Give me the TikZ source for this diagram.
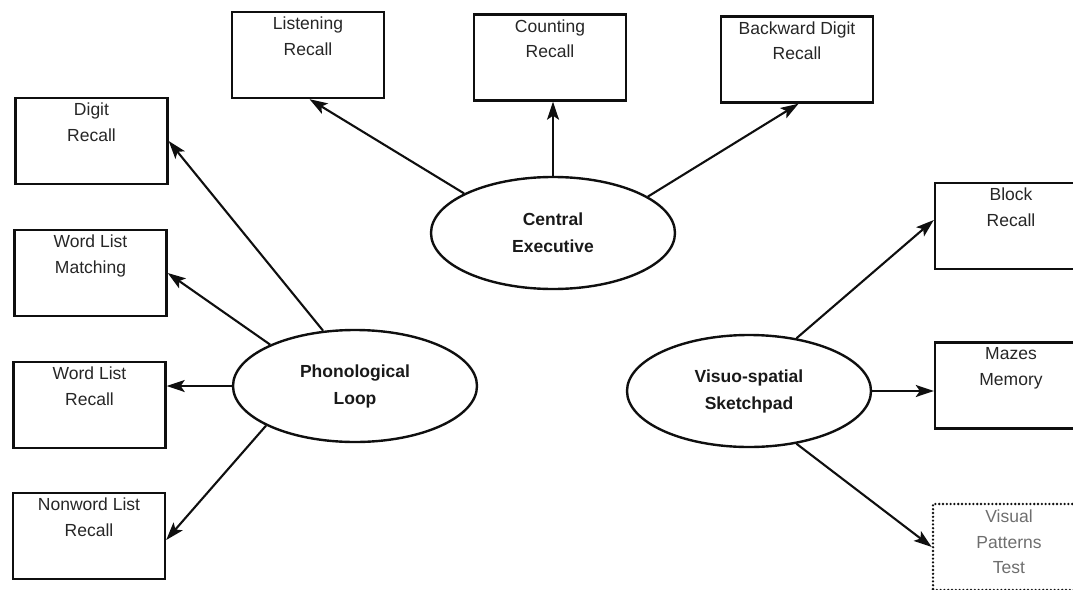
\documentclass[tikz,border=0pt]{standalone}
\usepackage{fontspec}
\setmainfont{Liberation Sans}
\usetikzlibrary{arrows.meta,shapes.geometric,calc}
\definecolor{fadedtext}{RGB}{110,110,110}
\definecolor{inkline}{RGB}{15,15,15}
\begin{document}
\begin{tikzpicture}[x=1pt,y=-1pt,
  testbox/.style={draw=inkline, line width=2.4pt, minimum width=152pt, minimum height=86pt, inner sep=0pt},
  optionalbox/.style={testbox, line cap=round, dash pattern=on 0pt off 3.8pt, line width=2.6pt},
  boxtext/.style={anchor=north, align=center, inner sep=0pt, text=black!85, font=\fontsize{17.5}{25.5}\selectfont},
  component/.style={draw=inkline, ellipse, line width=2.4pt, minimum width=244pt, minimum height=112pt,
    inner sep=0pt, align=center, text=black!90, font=\bfseries\fontsize{17.5}{27}\selectfont},
  link/.style={draw=inkline, line width=2.1pt, -{Stealth[length=18pt,width=12pt,inset=4pt]}}]

\useasboundingbox (0,0) rectangle (1073,589);
\clip (0,0) rectangle (1073,589);

% working-memory components
\node[component] (ce) at (553,233) {Central\\Executive};
\node[component] (pl) at (355,386) {Phonological\\Loop};
\node[component] (vs) at (749,391) {Visuo-spatial\\Sketchpad};

% tasks of the central executive
\node[testbox] (lr)  at (308,55)   {};
\node[testbox] (cr)  at (550,57.5) {};
\node[testbox] (bdr) at (797,59.5) {};
\node[boxtext] (lr-t)  at ([yshift=-6pt]lr.north)  {Listening\\Recall};
\node[boxtext] (cr-t)  at ([yshift=-6pt]cr.north)  {Counting\\Recall};
\node[boxtext] (bdr-t) at ([yshift=-6pt]bdr.north) {Backward Digit\\Recall};

% tasks of the phonological loop
\node[testbox] (dr)   at (91.5,141) {};
\node[testbox] (wlm)  at (90.5,273) {};
\node[testbox] (wlr)  at (89.5,405) {};
\node[testbox] (nwlr) at (89,536)   {};
\node[boxtext] (dr-t)   at ([yshift=-6pt]dr.north)   {Digit\\Recall};
\node[boxtext] (wlm-t)  at ([yshift=-6pt]wlm.north)  {Word List\\Matching};
\node[boxtext] (wlr-t)  at ([yshift=-6pt]wlr.north)  {Word List\\Recall};
\node[boxtext] (nwlr-t) at ([yshift=-6pt]nwlr.north) {Nonword List\\Recall};

% tasks of the visuo-spatial sketchpad
\node[testbox] (br)  at (1011,226)   {};
\node[testbox] (mm)  at (1011,385.5) {};
\node[optionalbox] (vpt) at (1009,547) {};
\node[boxtext] (br-t) at ([yshift=-6pt]br.north) {Block\\Recall};
\node[boxtext] (mm-t) at ([yshift=-6pt]mm.north) {Mazes\\Memory};
\node[boxtext, text=fadedtext] (vpt-t) at ([yshift=-7pt]vpt.north) {Visual\\Patterns\\Test};

% connectors
\draw[link] (ce.156) -- ($(lr.south west)!0.51!(lr.south east)$);
\draw[link] (ce.north) -- (ce.north |- cr.south);
\draw[link] (ce.21) -- ($(bdr.south west)!0.51!(bdr.south east)$);

\draw[link] (pl.120) -- (dr.east);
\draw[link] (pl.154) -- (wlm.east);
\draw[link] (pl.west) -- (pl.west -| wlr.east);
\draw[link] (pl.204) -- ([yshift=-4pt]nwlr.east);

\draw[link] (vs.48) -- ([yshift=6pt]br.west);
\draw[link] (vs.east) -- (vs.east -| mm.west);
\draw[link] (vs.312) -- (vpt.west);
\end{tikzpicture}
\end{document}
